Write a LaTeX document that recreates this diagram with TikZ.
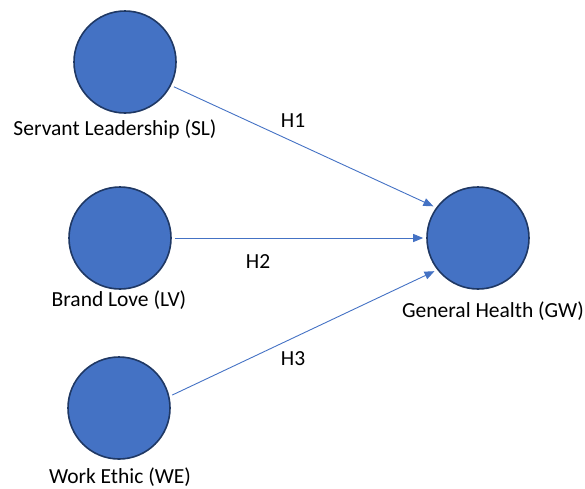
\documentclass[tikz,border=0pt]{standalone}
\usepackage{fontspec}
\setmainfont{Carlito}
\usetikzlibrary{arrows.meta}
\definecolor{cblue}{HTML}{4472C4}
\definecolor{navy}{HTML}{1F3864}
\begin{document}
\begin{tikzpicture}[x=1pt,y=-1pt,
  construct/.style={circle, draw=navy, fill=cblue, line width=1.6pt,
    minimum size=102pt, inner sep=0pt},
  hyp/.style={draw=cblue, line width=0.9pt,
    -{Triangle[length=10pt,width=8pt]}, shorten <=3pt, shorten >=3pt},
  lbl/.style={font=\fontsize{21.5}{24}\selectfont, text=black, inner sep=0pt}
]
\useasboundingbox (0,0) rectangle (585,488);

% constructs
\node[construct] (SL) at (125,62) {};
\node[construct] (LV) at (120,238) {};
\node[construct] (WE) at (119,408) {};
\node[construct] (GW) at (478,238) {};

% construct names
\node[lbl] (SLt) at (115,129) {Servant Leadership (SL)};
\node[lbl] (LVt) at (119,300) {Brand Love (LV)};
\node[lbl] (WEt) at (120,477) {Work Ethic (WE)};
\node[lbl] (GWt) at (493,311) {General Health (GW)};

% hypothesised paths
\draw[hyp] (SL.-27) -- (GW.144);
\draw[hyp] (LV.east) -- (GW.west);
\draw[hyp] (WE.13) -- (GW.-142);

% path labels
\node[lbl] (H1) at (293,121) {H1};
\node[lbl] (H2) at (258,262) {H2};
\node[lbl] (H3) at (293,359) {H3};
\end{tikzpicture}
\end{document}
